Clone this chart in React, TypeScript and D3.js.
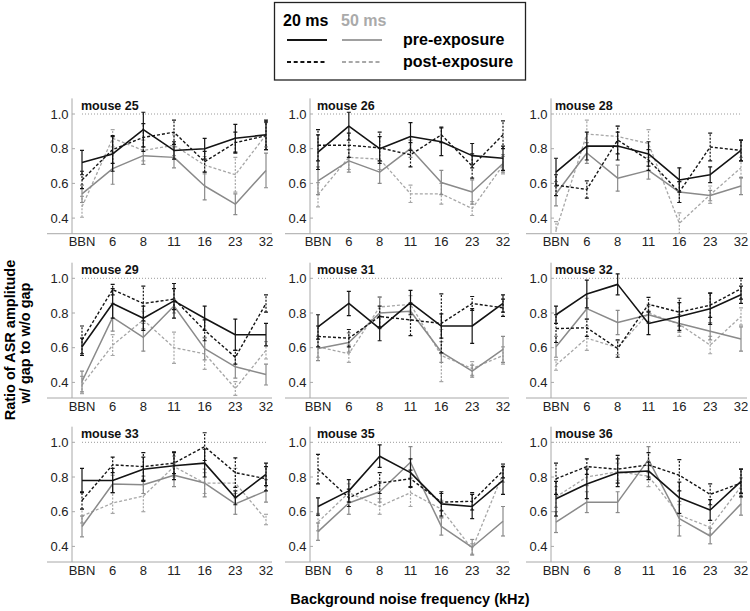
import React from "react";
import * as d3 from "d3";

const categories = ["BBN", "6", "8", "11", "16", "23", "32"];
const mouseLabels = ["mouse 25", "mouse 26", "mouse 28", "mouse 29", "mouse 31", "mouse 32", "mouse 33", "mouse 35", "mouse 36"];
const yTicks = [0.4, 0.6, 0.8, 1.0];

// 20 ms gap, pre-exposure
const pre20 = [
  [0.72, 0.77, 0.91, 0.79, 0.80, 0.86, 0.88],
  [0.78, 0.93, 0.80, 0.87, 0.84, 0.76, 0.745],
  [0.665, 0.815, 0.815, 0.77, 0.62, 0.65, 0.79],
  [0.605, 0.855, 0.77, 0.87, 0.77, 0.675, 0.675],
  [0.72, 0.855, 0.71, 0.86, 0.725, 0.725, 0.855],
  [0.79, 0.91, 0.965, 0.74, 0.78, 0.825, 0.905],
  [0.78, 0.78, 0.845, 0.865, 0.88, 0.68, 0.815],
  [0.63, 0.72, 0.92, 0.825, 0.645, 0.63, 0.78],
  [0.675, 0.76, 0.825, 0.835, 0.68, 0.61, 0.775],
];
const pre20Err = [
  [0.07, 0.1, 0.1, 0.05, 0.06, 0.08, 0.085],
  [0.1, 0.08, 0.07, 0.08, 0.08, 0.07, 0.07],
  [0.08, 0.08, 0.08, 0.07, 0.07, 0.045, 0.06],
  [0.05, 0.085, 0.07, 0.1, 0.07, 0.09, 0.065],
  [0.07, 0.07, 0.07, 0.07, 0.07, 0.1, 0.05],
  [0.05, 0.08, 0.06, 0.065, 0.08, 0.09, 0.05],
  [0.07, 0.07, 0.07, 0.08, 0.08, 0.04, 0.065],
  [0.05, 0.065, 0.065, 0.08, 0.07, 0.07, 0.08],
  [0.1, 0.085, 0.08, 0.05, 0.09, 0.06, 0.07],
];
// 20 ms gap, post-exposure
const post20 = [
  [0.62, 0.795, 0.865, 0.895, 0.725, 0.835, 0.875],
  [0.82, 0.82, 0.805, 0.765, 0.88, 0.7, 0.88],
  [0.59, 0.565, 0.85, 0.735, 0.55, 0.81, 0.79],
  [0.645, 0.935, 0.855, 0.88, 0.7, 0.545, 0.855],
  [0.665, 0.655, 0.78, 0.76, 0.74, 0.855, 0.83],
  [0.71, 0.715, 0.595, 0.85, 0.805, 0.845, 0.94],
  [0.665, 0.87, 0.86, 0.88, 0.975, 0.825, 0.79],
  [0.845, 0.68, 0.765, 0.79, 0.655, 0.66, 0.835],
  [0.79, 0.86, 0.845, 0.87, 0.81, 0.7, 0.765],
];
const post20Err = [
  [0.05, 0.08, 0.08, 0.07, 0.06, 0.06, 0.08],
  [0.09, 0.07, 0.09, 0.07, 0.045, 0.07, 0.08],
  [0.06, 0.05, 0.08, 0.06, 0.06, 0.08, 0.06],
  [0.08, 0.03, 0.1, 0.06, 0.06, 0.04, 0.05],
  [0.06, 0.05, 0.06, 0.09, 0.17, 0.04, 0.05],
  [0.08, 0.05, 0.05, 0.04, 0.08, 0.07, 0.06],
  [0.05, 0.045, 0.08, 0.06, 0.08, 0.085, 0.07],
  [0.085, 0.05, 0.06, 0.05, 0.05, 0.05, 0.04],
  [0.09, 0.045, 0.08, 0.07, 0.09, 0.06, 0.08],
];
// 50 ms gap, pre-exposure
const pre50 = [
  [0.54, 0.685, 0.76, 0.75, 0.585, 0.48, 0.675],
  [0.615, 0.73, 0.665, 0.8, 0.605, 0.55, 0.715],
  [0.54, 0.775, 0.63, 0.675, 0.55, 0.53, 0.585],
  [0.405, 0.775, 0.66, 0.84, 0.595, 0.49, 0.445],
  [0.595, 0.63, 0.8, 0.81, 0.575, 0.465, 0.59],
  [0.605, 0.825, 0.745, 0.79, 0.74, 0.695, 0.65],
  [0.515, 0.76, 0.755, 0.81, 0.765, 0.645, 0.72],
  [0.485, 0.65, 0.715, 0.885, 0.515, 0.395, 0.545],
  [0.54, 0.655, 0.655, 0.9, 0.56, 0.46, 0.645],
];
const pre50Err = [
  [0.05, 0.09, 0.05, 0.06, 0.08, 0.06, 0.1],
  [0.08, 0.065, 0.065, 0.05, 0.07, 0.07, 0.05],
  [0.07, 0.06, 0.075, 0.05, 0.06, 0.03, 0.05],
  [0.06, 0.08, 0.08, 0.04, 0.065, 0.065, 0.06],
  [0.07, 0.055, 0.09, 0.05, 0.06, 0.035, 0.075],
  [0.06, 0.06, 0.07, 0.05, 0.05, 0.05, 0.07],
  [0.06, 0.05, 0.05, 0.065, 0.08, 0.06, 0.065],
  [0.05, 0.065, 0.06, 0.09, 0.05, 0.045, 0.085],
  [0.06, 0.06, 0.06, 0.075, 0.1, 0.045, 0.065],
];
// 50 ms gap, post-exposure
const post50 = [
  [0.465, 0.86, 0.79, 0.82, 0.705, 0.65, 0.88],
  [0.535, 0.75, 0.74, 0.54, 0.54, 0.455, 0.705],
  [0.33, 0.885, 0.87, 0.83, 0.37, 0.535, 0.69],
  [0.385, 0.615, 0.76, 0.6, 0.565, 0.365, 0.585],
  [0.605, 0.565, 0.835, 0.85, 0.555, 0.48, 0.555],
  [0.5, 0.655, 0.6, 0.8, 0.735, 0.615, 0.78],
  [0.575, 0.65, 0.69, 0.86, 0.765, 0.765, 0.555],
  [0.54, 0.71, 0.63, 0.71, 0.615, 0.385, 0.82],
  [0.685, 0.8, 0.83, 0.805, 0.58, 0.51, 0.745],
];
const post50Err = [
  [0.06, 0.05, 0.06, 0.06, 0.05, 0.1, 0.07],
  [0.07, 0.07, 0.06, 0.05, 0.06, 0.04, 0.05],
  [0.05, 0.08, 0.06, 0.08, 0.06, 0.05, 0.06],
  [0.05, 0.06, 0.05, 0.09, 0.09, 0.04, 0.05],
  [0.06, 0.05, 0.06, 0.05, 0.15, 0.04, 0.05],
  [0.03, 0.07, 0.04, 0.05, 0.07, 0.05, 0.05],
  [0.04, 0.06, 0.09, 0.06, 0.06, 0.085, 0.03],
  [0.05, 0.05, 0.045, 0.08, 0.05, 0.03, 0.05],
  [0.06, 0.05, 0.05, 0.06, 0.06, 0.04, 0.05],
];

const FONT = "'Liberation Sans', Arial, Helvetica, sans-serif";
const BLACK = "#141414";

const colAxisX = [72, 310, 551];
const colFirstX = [82, 318, 556];
const colLastX = [266, 503, 741];
const rowY1 = [114, 278.3, 442.3];
const Y_MIN = 0.31;
const Y_MAX = 1.09;

type Series = { vals: number[][]; errs: number[][]; color: string; width: number; dash?: string; errDash?: string };

const seriesList: Series[] = [
  { vals: post50, errs: post50Err, color: "#a6a6a6", width: 1.3, dash: "3,2", errDash: "2,1.5" },
  { vals: pre50, errs: pre50Err, color: "#8a8a8a", width: 1.5 },
  { vals: post20, errs: post20Err, color: BLACK, width: 1.4, dash: "3,2", errDash: "2,1.5" },
  { vals: pre20, errs: pre20Err, color: BLACK, width: 1.6 },
];

function Panel({ idx }: { idx: number }) {
  const col = idx % 3;
  const row = Math.floor(idx / 3);
  const x = d3.scalePoint<string>().domain(categories).range([colFirstX[col], colLastX[col]]);
  const y1 = rowY1[row];
  const y = d3.scaleLinear().domain([0.4, 1.0]).range([y1 + 104.1, y1]);
  const axisX = colAxisX[col];
  const bottom = y(Y_MIN);
  const top = y(Y_MAX);
  const clipId = `clip-${idx}`;
  const line = d3
    .line<number>()
    .x((_, i) => x(categories[i]) as number)
    .y((d) => y(d));
  return (
    <g>
      <defs>
        <clipPath id={clipId}>
          <rect x={axisX} y={top} width={colLastX[col] + 8 - axisX} height={bottom - top} />
        </clipPath>
      </defs>
      {/* reference line at 1.0 */}
      <line x1={colFirstX[col]} x2={colLastX[col]} y1={y(1)} y2={y(1)} stroke="#9a9a9a" strokeWidth={1} strokeDasharray="1,2" />
      {/* axes */}
      <line x1={axisX} x2={axisX} y1={top} y2={bottom} stroke="#a8a8a8" strokeWidth={1} />
      <line x1={axisX - 25} x2={colLastX[col] + 6} y1={bottom} y2={bottom} stroke="#a8a8a8" strokeWidth={1} />
      {yTicks.map((t) => (
        <g key={t}>
          <line x1={axisX} x2={axisX + 3} y1={y(t)} y2={y(t)} stroke="#a8a8a8" />
          <text x={axisX - 3.5} y={y(t)} dy="0.35em" textAnchor="end" fontSize={13} fontFamily={FONT} fill="#222">
            {t.toFixed(1)}
          </text>
        </g>
      ))}
      {categories.map((c) => (
        <text key={c} x={x(c)} y={bottom + 12.5} textAnchor="middle" fontSize={13} fontFamily={FONT} fill="#222">
          {c}
        </text>
      ))}
      <g clipPath={`url(#${clipId})`}>
        {seriesList.map((s, si) => (
          <g key={si}>
            {s.vals[idx].map((v, i) => {
              const cx = x(categories[i]) as number;
              const e = s.errs[idx][i];
              return (
                <g key={i}>
                  <line x1={cx} x2={cx} y1={y(v - e)} y2={y(v + e)} stroke={s.color} strokeWidth={1.2} strokeDasharray={s.errDash} />
                  <line x1={cx - 2} x2={cx + 2} y1={y(v - e)} y2={y(v - e)} stroke={s.color} strokeWidth={1.2} />
                  <line x1={cx - 2} x2={cx + 2} y1={y(v + e)} y2={y(v + e)} stroke={s.color} strokeWidth={1.2} />
                </g>
              );
            })}
            <path d={line(s.vals[idx]) || ""} fill="none" stroke={s.color} strokeWidth={s.width} strokeDasharray={s.dash} strokeLinejoin="round" />
          </g>
        ))}
      </g>
      <text x={colFirstX[col] - 1} y={y1 - 4} fontSize={12.5} fontWeight="bold" fontFamily={FONT} fill="#111">
        {mouseLabels[idx]}
      </text>
    </g>
  );
}

export default function App() {
  return (
    <svg width={750} height={611} style={{ position: "absolute", left: 0, top: 0, background: "#fff" }}>
      <rect width={750} height={611} fill="#fff" />
      {/* legend */}
      <rect x={274.5} y={2.5} width={251} height={77.5} fill="#fff" stroke="#222" strokeWidth={1.3} />
      <text x={283} y={26} fontSize={16} fontWeight="bold" fontFamily={FONT} fill="#000">20 ms</text>
      <text x={341} y={26} fontSize={16} fontWeight="bold" fontFamily={FONT} fill="#aaaaaa">50 ms</text>
      <line x1={287} x2={327} y1={40} y2={40} stroke={BLACK} strokeWidth={2} />
      <line x1={342} x2={382} y1={40} y2={40} stroke="#a0a0a0" strokeWidth={2} />
      <line x1={287} x2={327} y1={62} y2={62} stroke={BLACK} strokeWidth={2} strokeDasharray="4,2.7" />
      <line x1={342} x2={382} y1={62} y2={62} stroke="#a8a8a8" strokeWidth={2} strokeDasharray="4,2.7" />
      <text x={403} y={45} fontSize={16} fontWeight="bold" fontFamily={FONT} fill="#000">pre-exposure</text>
      <text x={403} y={67} fontSize={16} fontWeight="bold" fontFamily={FONT} fill="#000">post-exposure</text>
      {mouseLabels.map((_, i) => (
        <Panel key={i} idx={i} />
      ))}
      {/* axis titles */}
      <text transform="translate(15,340) rotate(-90)" textAnchor="middle" fontSize={14.5} fontWeight="bold" fontFamily={FONT} fill="#000">
        Ratio of ASR amplitude
      </text>
      <text transform="translate(30,343) rotate(-90)" textAnchor="middle" fontSize={14.5} fontWeight="bold" fontFamily={FONT} fill="#000">
        w/ gap to w/o gap
      </text>
      <text x={410} y={604} textAnchor="middle" fontSize={14.5} fontWeight="bold" fontFamily={FONT} fill="#000">
        Background noise frequency (kHz)
      </text>
    </svg>
  );
}
